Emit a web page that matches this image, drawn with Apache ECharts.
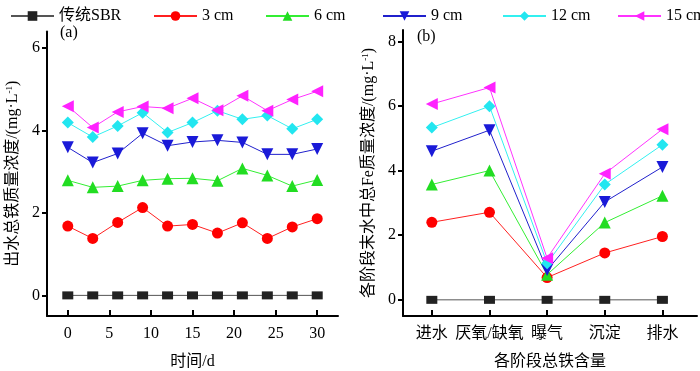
<!DOCTYPE html>
<html><head><meta charset="utf-8">
<script src="https://cdn.jsdelivr.net/npm/echarts@6/dist/echarts.min.js"></script>
<style>html,body{margin:0;padding:0;background:#fff}#c{width:700px;height:371px}</style>
</head><body><div id="c"></div>
<script>
// ---- data ----
const seriesNames = ['传统SBR', '3 cm', '6 cm', '9 cm', '12 cm', '15 cm'];
const days = [0, 3, 6, 9, 12, 15, 18, 21, 24, 27, 30];
const dayTicks = [0, 5, 10, 15, 20, 25, 30];
const leftYTicks = [0, 2, 4, 6];
const effSBR = [0, 0, 0, 0, 0, 0, 0, 0, 0, 0, 0];
const eff3 = [1.68, 1.38, 1.77, 2.13, 1.68, 1.72, 1.51, 1.76, 1.38, 1.66, 1.86];
const eff6 = [2.79, 2.62, 2.65, 2.79, 2.83, 2.84, 2.78, 3.08, 2.91, 2.65, 2.80];
const eff9 = [3.59, 3.22, 3.44, 3.93, 3.63, 3.72, 3.76, 3.71, 3.42, 3.42, 3.55];
const eff12 = [4.19, 3.84, 4.11, 4.43, 3.95, 4.19, 4.48, 4.27, 4.36, 4.04, 4.27];
const eff15 = [4.59, 4.07, 4.45, 4.58, 4.54, 4.78, 4.49, 4.84, 4.48, 4.75, 4.95];
const stages = ['进水', '厌氧/缺氧', '曝气', '沉淀', '排水'];
const rightYTicks = [0, 2, 4, 6, 8];
const stSBR = [0, 0, 0, 0, 0];
const st3 = [2.40, 2.71, 0.69, 1.45, 1.96];
const st6 = [3.57, 4.00, 0.78, 2.39, 3.22];
const st9 = [4.60, 5.25, 0.92, 3.03, 4.11];
const st12 = [5.33, 5.99, 1.13, 3.57, 4.80];
const st15 = [6.06, 6.57, 1.29, 3.90, 5.28];

// ---- styles ----
const FONT = "'Liberation Serif','Noto Sans CJK SC',serif";
const colors = ['#222222', '#ff0000', '#22dd22', '#1a1ad8', '#22e6f0', '#ff22ff'];
const lineColors = ['#555555', '#ff2020', '#33ee33', '#2020cc', '#33f0f0', '#ff33ff'];
const symbols = ['rect', 'circle', 'triangle', 'triangle', 'diamond', 'triangle'];
const symRot = [0, 0, 0, 180, 0, 90];
const symSize = [[11, 8], 11, 12, 12, 12, 12];
const legendLeft = [5, 148, 260, 377, 497, 612];

const effData = [effSBR, eff3, eff6, eff9, eff12, eff15];
const stData = [stSBR, st3, st6, st9, st12, st15];

const series = [];
seriesNames.forEach((n, i) => {
  const common = {
    name: n, type: 'line', symbol: symbols[i], symbolRotate: symRot[i], symbolSize: symSize[i],
    itemStyle: { color: colors[i] }, lineStyle: { color: lineColors[i], width: 1 }, animation: false, z: 3 + i
  };
  series.push(Object.assign({}, common, { xAxisIndex: 0, yAxisIndex: 0, data: days.map((d, k) => [d, effData[i][k]]) }));
  series.push(Object.assign({}, common, { xAxisIndex: 1, yAxisIndex: 1, data: stages.map((s, k) => [k, stData[i][k]]) }));
});

const axisLineStyle = { show: true, onZero: false, lineStyle: { color: '#000', width: 2 } };
const tickStyle = { lineStyle: { color: '#000', width: 2 } };
const labelStyle = { color: '#000', fontSize: 16, fontFamily: FONT };
const nameStyle = {
  color: '#000', fontSize: 16, fontFamily: FONT,
  rich: { sup: { fontSize: 9, fontFamily: FONT, verticalAlign: 'top', color: '#000' } }
};

const option = {
  animation: false,
  textStyle: { fontFamily: FONT },
  legend: seriesNames.map((n, i) => ({
    data: [n], left: legendLeft[i], top: 3, itemWidth: 43, itemHeight: 12,
    textStyle: { color: '#000', fontSize: 16, fontFamily: FONT },
    selectedMode: false
  })),
  grid: [
    { left: 47, right: 362, top: 31.5, bottom: 55, outerBoundsMode: 'none', containLabel: false },
    { left: 403, right: 3, top: 30, bottom: 55, outerBoundsMode: 'none', containLabel: false }
  ],
  xAxis: [
    {
      type: 'value', gridIndex: 0, min: -2.5, max: 32.5,
      axisLine: axisLineStyle, splitLine: { show: false },
      axisTick: Object.assign({ inside: true, length: 6, customValues: dayTicks }, tickStyle),
      axisLabel: Object.assign({ customValues: dayTicks, margin: 10 }, labelStyle),
      name: '时间/d', nameLocation: 'middle', nameGap: 38, nameTextStyle: nameStyle
    },
    {
      type: 'value', gridIndex: 1, min: -0.5, max: 4.6,
      axisLine: axisLineStyle, splitLine: { show: false },
      axisTick: Object.assign({ inside: true, length: 6, customValues: [0, 1, 2, 3, 4] }, tickStyle),
      axisLabel: Object.assign({ customValues: [0, 1, 2, 3, 4], margin: 10, formatter: v => stages[Math.round(v)] }, labelStyle),
      name: '各阶段总铁含量', nameLocation: 'middle', nameGap: 38, nameTextStyle: nameStyle
    }
  ],
  yAxis: [
    {
      type: 'value', gridIndex: 0, min: -0.5, max: 6.4,
      axisLine: axisLineStyle, splitLine: { show: false },
      axisTick: Object.assign({ show: true, length: 5, customValues: leftYTicks }, tickStyle),
      axisLabel: Object.assign({ customValues: leftYTicks, margin: 7 }, labelStyle),
      name: '出水总铁质量浓度/(mg·L{sup|-1})', nameLocation: 'middle', nameGap: 26, nameTextStyle: nameStyle
    },
    {
      type: 'value', gridIndex: 1, min: -0.5, max: 8.35,
      axisLine: axisLineStyle, splitLine: { show: false },
      axisTick: Object.assign({ show: true, length: 5, customValues: rightYTicks }, tickStyle),
      axisLabel: Object.assign({ customValues: rightYTicks, margin: 7 }, labelStyle),
      name: '各阶段末水中总Fe质量浓度/(mg·L{sup|-1})', nameLocation: 'middle', nameGap: 26, nameTextStyle: nameStyle
    }
  ],
  graphic: [
    { type: 'text', left: 60, top: 25, style: { text: '(a)', font: '16px ' + FONT, fill: '#000' } },
    { type: 'text', left: 417, top: 29, style: { text: '(b)', font: '16px ' + FONT, fill: '#000' } }
  ],
  series: series
};
const chart = echarts.init(document.getElementById('c'), null, { renderer: 'canvas' });
chart.setOption(option);
</script></body></html>
